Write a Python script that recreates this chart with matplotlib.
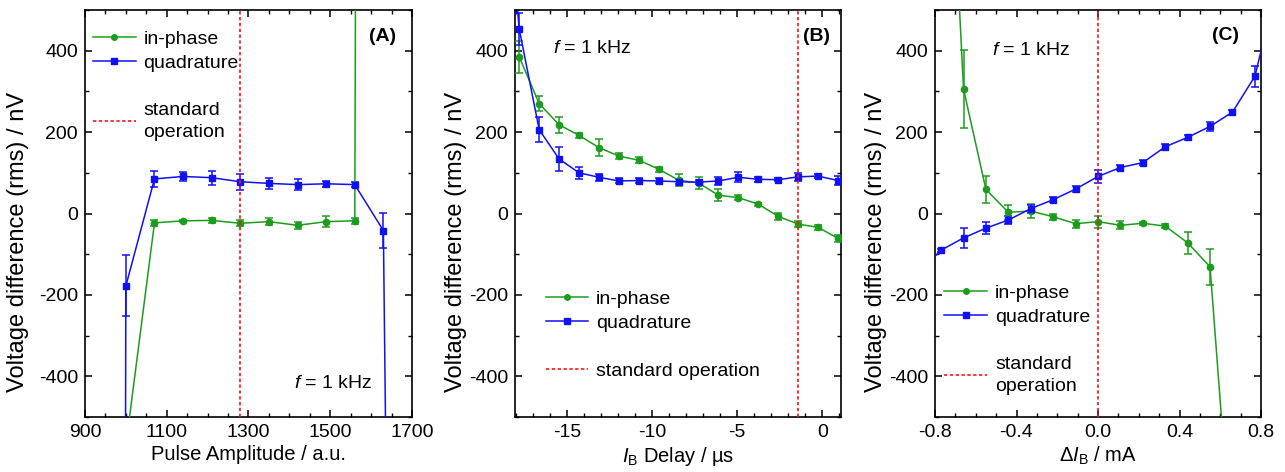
import numpy as np
import matplotlib
matplotlib.use("Agg")
import matplotlib.pyplot as plt
from matplotlib.lines import Line2D
from matplotlib.ticker import MultipleLocator

plt.rcParams['font.family'] = ['Liberation Sans', 'DejaVu Sans']
plt.rcParams['font.size'] = 14
plt.rcParams['axes.unicode_minus'] = False
plt.rcParams['mathtext.fontset'] = 'custom'
plt.rcParams['mathtext.rm'] = 'Liberation Sans'
plt.rcParams['mathtext.it'] = 'Liberation Sans:italic'

GREEN = '#1c9c1c'
BLUE = '#1010f5'
RED = '#ff1010'

# (A) pulse amplitude scan
amp_inphase_x = [1000, 1070, 1140, 1210, 1280, 1350, 1420, 1490, 1560, 1630]
amp_inphase_y = [-570, -23, -18, -17, -24, -20, -29, -20, -18, 23000]
amp_inphase_err = [0, 7, 3, 7, 7, 8, 8, 14, 8, 0]
amp_quad_x = [930, 1000, 1070, 1140, 1210, 1280, 1350, 1420, 1490, 1560, 1630, 1700]
amp_quad_y = [-30000, -178, 85, 91, 88, 78, 74, 71, 73, 71, -42, -6400]
amp_quad_err = [0, 75, 20, 10, 17, 20, 13, 13, 8, 6, 43, 0]
amp_standard = 1280

# (B) I_B delay scan
delay_inphase_x = [-17.8, -16.63, -15.46, -14.29, -13.12, -11.95, -10.78, -9.61, -8.44,
                   -7.27, -6.1, -4.93, -3.76, -2.59, -1.42, -0.25, 0.92]
delay_inphase_y = [385, 270, 218, 192, 162, 141, 131, 109, 82, 75, 45, 39, 23, -7, -26, -34, -61]
delay_inphase_err = [40, 18, 20, 6, 20, 8, 8, 6, 15, 15, 15, 6, 4, 8, 8, 6, 8]
delay_quad_x = [-18.97, -17.8, -16.63, -15.46, -14.29, -13.12, -11.95, -10.78, -9.61, -8.44,
                -7.27, -6.1, -4.93, -3.76, -2.59, -1.42, -0.25, 0.92]
delay_quad_y = [1000, 453, 206, 134, 100, 89, 80, 81, 80, 78, 77, 80, 89, 84, 83, 90, 92, 81]
delay_quad_err = [0, 40, 31, 30, 15, 8, 6, 6, 6, 6, 5, 10, 12, 6, 4, 10, 5, 10]
delay_standard = -1.42

# (C) delta I_B scan
dib_inphase_x = [-0.77, -0.66, -0.55, -0.44, -0.33, -0.22, -0.11, 0.0,
                 0.11, 0.22, 0.33, 0.44, 0.55, 0.66]
dib_inphase_y = [1400, 306, 59, 3, 6, -8, -25, -20, -29, -24, -31, -72, -131, -860]
dib_inphase_err = [0, 95, 32, 18, 18, 8, 10, 15, 10, 4, 5, 27, 45, 0]
dib_quad_x = [-0.88, -0.77, -0.66, -0.55, -0.44, -0.33, -0.22, -0.11, 0.0,
              0.11, 0.22, 0.33, 0.44, 0.55, 0.66, 0.77, 0.88]
dib_quad_y = [-145, -90, -60, -36, -16, 12, 34, 60, 91, 113, 125, 164, 187, 214, 249, 337, 563]
dib_quad_err = [0, 4, 25, 15, 10, 10, 6, 7, 15, 5, 7, 7, 7, 12, 6, 26, 0]
dib_standard = 0.0

fig = plt.figure(figsize=(12.85, 4.72), dpi=100)
W, H = 1285.0, 472.0
DOT = (0, (2, 1.5))


def make_axes(left_px, right_px):
    return fig.add_axes([left_px / W, (H - 417) / H, (right_px - left_px) / W, 407 / H])


def draw_series(ax, x, y, err, color, marker, ms):
    ax.errorbar(x, y, yerr=err, color=color, marker=marker, ms=ms, lw=1.1,
                elinewidth=1.1, capsize=3, capthick=1.1, zorder=3)


def style_axes(ax, xmin, xmax, xmajor, xminor, xoffset=0, label_x=-0.18):
    ax.set_xlim(xmin, xmax)
    ax.set_ylim(-500, 500)
    ax.xaxis.set_major_locator(MultipleLocator(xmajor, offset=xoffset))
    ax.xaxis.set_minor_locator(MultipleLocator(xminor))
    ax.yaxis.set_major_locator(MultipleLocator(200))
    ax.yaxis.set_minor_locator(MultipleLocator(100))
    ax.tick_params(which='both', direction='in', top=True, right=True, labelsize=14)
    ax.tick_params(which='major', length=5, width=1.1, pad=5)
    ax.tick_params(which='minor', length=3, width=1.0)
    for s in ax.spines.values():
        s.set_linewidth(1.2)
    ax.set_ylabel('Voltage difference (rms) / nV', fontsize=17, va='center')
    ax.yaxis.set_label_coords(label_x, 0.43)


def legend_handles():
    h = [Line2D([], [], color=GREEN, marker='o', ms=4, lw=1.1),
         Line2D([], [], color=BLUE, marker='s', ms=4, lw=1.1),
         Line2D([], [], color='none'),
         Line2D([], [], color=RED, ls=DOT, lw=1.2)]
    return h


LEG = dict(frameon=False, handlelength=2.2, handletextpad=0.4, labelspacing=0.33,
           fontsize=14, borderaxespad=0.0, loc='upper left')


def add_legend(ax, labels, anchor):
    leg = ax.legend(legend_handles(), labels, bbox_to_anchor=anchor, **LEG)
    for t in leg.get_texts():
        t.set_linespacing(1.35)
    return leg


# panel A
axA = make_axes(85, 412)
draw_series(axA, amp_inphase_x, amp_inphase_y, amp_inphase_err, GREEN, 'o', 4.5)
draw_series(axA, amp_quad_x, amp_quad_y, amp_quad_err, BLUE, 's', 4)
axA.axvline(amp_standard, color=RED, ls=DOT, lw=1.2, zorder=4)
style_axes(axA, 900, 1700, 200, 50, xoffset=100, label_x=-0.205)
axA.set_xlabel('Pulse Amplitude / a.u.', fontsize=14.5, labelpad=3)
axA.text(0.91, 0.935, '(A)', transform=axA.transAxes, ha='center', va='center',
         fontsize=14, fontweight='bold')
axA.text(0.64, 0.083, '$f$ = 1 kHz', transform=axA.transAxes, ha='left', va='center', fontsize=14)
add_legend(axA, ['in-phase', 'quadrature', '', 'standard\noperation'], (0.0, 0.97))

# panel B
axB = make_axes(515, 841)
draw_series(axB, delay_inphase_x, delay_inphase_y, delay_inphase_err, GREEN, 'o', 4.5)
draw_series(axB, delay_quad_x, delay_quad_y, delay_quad_err, BLUE, 's', 4)
axB.axvline(delay_standard, color=RED, ls=DOT, lw=1.2, zorder=4)
style_axes(axB, -18.05, 1.1, 5, 1, label_x=-0.18)
axB.set_xlabel(r'$I_\mathrm{B}$ Delay / µs', fontsize=14.5, labelpad=3)
axB.text(0.926, 0.934, '(B)', transform=axB.transAxes, ha='center', va='center',
         fontsize=14, fontweight='bold')
axB.text(0.117, 0.905, '$f$ = 1 kHz', transform=axB.transAxes, ha='left', va='center', fontsize=14)
add_legend(axB, ['in-phase', 'quadrature', '', 'standard operation'], (0.07, 0.33))

# panel C
axC = make_axes(935, 1261)
draw_series(axC, dib_inphase_x, dib_inphase_y, dib_inphase_err, GREEN, 'o', 4.5)
draw_series(axC, dib_quad_x, dib_quad_y, dib_quad_err, BLUE, 's', 4)
axC.axvline(dib_standard, color=RED, ls=DOT, lw=1.2, zorder=4)
style_axes(axC, -0.8, 0.8, 0.4, 0.1, label_x=-0.18)
axC.xaxis.set_major_formatter(plt.FormatStrFormatter('%.1f'))
axC.set_xlabel(r'$\mathit{\Delta I}_\mathrm{B}$ / mA', fontsize=14.5, labelpad=3)
axC.text(0.89, 0.937, '(C)', transform=axC.transAxes, ha='center', va='center',
         fontsize=14, fontweight='bold')
axC.text(0.175, 0.90, '$f$ = 1 kHz', transform=axC.transAxes, ha='left', va='center', fontsize=14)
add_legend(axC, ['in-phase', 'quadrature', '', 'standard\noperation'], (0.005, 0.345))

fig.savefig('out.png', dpi=100)
